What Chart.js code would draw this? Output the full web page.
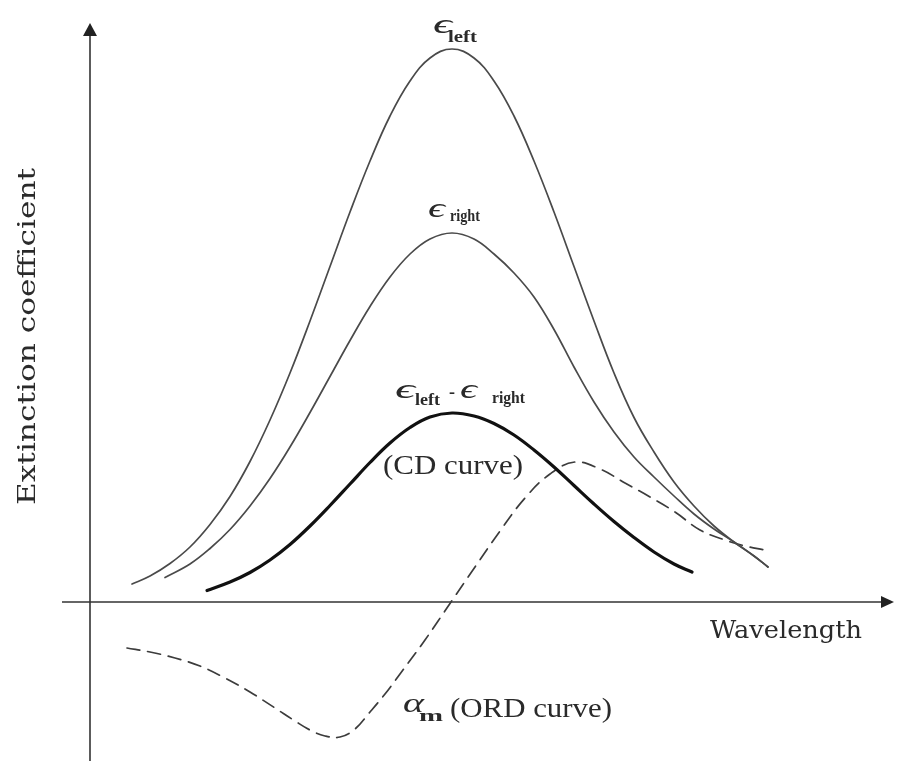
<!DOCTYPE html>
<html>
<head>
<meta charset="utf-8">
<title>Extinction coefficient vs wavelength</title>
<script src="https://cdn.jsdelivr.net/npm/chart.js@4.4.1/dist/chart.umd.min.js"></script>
<style>
  html, body { margin: 0; padding: 0; background: #ffffff; }
  canvas { display: block; }
</style>
</head>
<body>
<canvas id="chart" width="897" height="761"></canvas>
<script>
// ---- Curve data (wavelength and extinction in arbitrary units) ----
const leftWavelength  = [8.4, 12, 16, 20, 24, 28, 32, 36, 40, 44, 48, 52, 56, 60, 64, 68, 72.4, 76.8, 80.8, 84.8, 88.8, 92.8, 96.8, 100.8, 104.8, 108.8, 112.8, 116.8, 120.8, 124.8, 128.8, 132.8, 135.6];
const leftExtinction  = [3.6, 5.2, 7.7, 11.0, 15.5, 21.1, 28.1, 36.4, 45.8, 56.2, 67.1, 78.0, 88.2, 97.2, 104.2, 108.8, 110.6, 108.8, 104.2, 97.2, 88.2, 78.0, 67.1, 56.2, 45.8, 36.9, 30.0, 24.0, 19.2, 15.2, 12.0, 9.2, 7.0];

const rightWavelength = [15.0, 20, 24, 28, 32, 36, 40, 44, 48, 52, 56, 60, 64, 68, 72.4, 76.8, 80.8, 84.8, 88.8, 92.8, 96.8, 100.8, 104.8, 108.8, 112.8, 116.8, 120.8, 124.8, 128.8, 132.8, 135.6];
const rightExtinction = [4.9, 7.6, 10.7, 14.5, 19.2, 24.7, 31.0, 37.9, 45.1, 52.3, 59.1, 65.0, 69.6, 72.6, 73.8, 72.6, 69.6, 65.8, 61.0, 54.5, 47.0, 40.0, 34.0, 29.0, 25.0, 21.2, 17.6, 14.6, 12.0, 9.2, 7.0];

const cdWavelength    = [23.4, 28, 32, 36, 40, 44, 48, 52, 56, 60, 64, 68, 72.4, 76.8, 80.8, 84.8, 88.8, 92.8, 96.8, 100.8, 104.8, 108.8, 112.8, 116.8, 120.4];
const cdValue         = [2.3, 4.0, 5.9, 8.4, 11.5, 15.2, 19.3, 23.6, 27.9, 31.8, 34.9, 37.0, 37.8, 37.2, 35.7, 33.4, 30.4, 27.0, 23.3, 19.6, 16.1, 12.9, 10.0, 7.6, 6.0];

const ordWavelength   = [7.4, 12, 17, 22, 27, 32, 37, 41, 44, 47, 50, 53, 56, 59, 62, 67, 72.2, 77, 82, 87, 92, 97, 102, 107, 112, 117, 122, 127, 131, 135];
const ordValue        = [-9.2, -10.0, -11.2, -12.8, -15.2, -18.0, -21.2, -23.8, -25.6, -26.8, -27.0, -25.4, -22.0, -18.4, -14.4, -7.6, 0.0, 7.0, 14.2, 20.8, 25.6, 28.0, 26.6, 23.8, 21.0, 18.0, 14.4, 12.4, 11.2, 10.4];

// ---- Plot window and axis extents (data units) ----
const xRange = { min: -18, max: 161.4 };
const yRange = { min: -31.8, max: 120.4 };
const axisExtent = { xStart: -5.6, xEnd: 160.8, yStart: -31.8, yEnd: 115.8 };

// ---- Label anchors (data units) ----
const labelAnchors = {
  epsLeft:    { x: 68.6, y: 113.8 },
  epsRight:   { x: 67.6, y: 77.0 },
  epsDiff:    { x: 61.0, y: 40.8 },
  cdCaption:  { x: 72.6, y: 25.6 },
  ordCaption: { x: 62.6, y: -22.0 },
  xTitle:     { x: 124.0, y: -7.2 },
  yTitle:     { x: -11.0, y: 53.0 }
};

const toPoints = (xs, ys) => xs.map((x, i) => ({ x: x, y: ys[i] }));

const SERIF = '"Liberation Serif", "Times New Roman", serif';
const TITLE_SERIF = '"DejaVu Serif", serif';
const INK = '#2a2a2a';

// draw text horizontally fitted to a given width, left aligned at (x, baseline)
function fitText(ctx, text, x, y, font, width) {
  ctx.save();
  ctx.font = font;
  ctx.textAlign = 'left';
  ctx.textBaseline = 'alphabetic';
  const w = ctx.measureText(text).width;
  ctx.translate(x, y);
  ctx.scale(width / w, 1);
  ctx.fillText(text, 0, 0);
  ctx.restore();
}

// epsilon symbol followed by a small subscript
function epsWithSub(ctx, x, base, sub, epsW, gap, subW, drop) {
  fitText(ctx, '\u03F5', x, base, 'italic 28px ' + SERIF, epsW);
  fitText(ctx, sub, x + epsW + gap, base + drop, 'bold 16px ' + SERIF, subW);
  return x + epsW + gap + subW;
}

const decorations = {
  id: 'decorations',
  beforeDatasetsDraw(chart) {
    const ctx = chart.ctx;
    const xs = chart.scales.x, ys = chart.scales.y;
    const x0 = xs.getPixelForValue(0), y0 = ys.getPixelForValue(0);
    const xa = xs.getPixelForValue(axisExtent.xStart), xb = xs.getPixelForValue(axisExtent.xEnd);
    const ya = ys.getPixelForValue(axisExtent.yStart), yb = ys.getPixelForValue(axisExtent.yEnd);
    ctx.save();
    ctx.strokeStyle = '#333';
    ctx.fillStyle = '#222';
    ctx.lineWidth = 1.6;
    // horizontal (wavelength) axis
    ctx.beginPath();
    ctx.moveTo(xa, y0);
    ctx.lineTo(xb - 10, y0);
    ctx.stroke();
    ctx.beginPath();
    ctx.moveTo(xb, y0);
    ctx.lineTo(xb - 13, y0 - 6);
    ctx.lineTo(xb - 13, y0 + 6);
    ctx.closePath();
    ctx.fill();
    // vertical (extinction) axis
    ctx.beginPath();
    ctx.moveTo(x0, ya);
    ctx.lineTo(x0, yb + 10);
    ctx.stroke();
    ctx.beginPath();
    ctx.moveTo(x0, yb);
    ctx.lineTo(x0 - 7, yb + 13);
    ctx.lineTo(x0 + 7, yb + 13);
    ctx.closePath();
    ctx.fill();
    ctx.restore();
  },
  afterDatasetsDraw(chart) {
    const ctx = chart.ctx;
    const xs = chart.scales.x, ys = chart.scales.y;
    const P = a => ({ x: xs.getPixelForValue(a.x), y: ys.getPixelForValue(a.y) });
    ctx.save();
    ctx.fillStyle = INK;

    let p = P(labelAnchors.epsLeft);
    epsWithSub(ctx, p.x, p.y, 'left', 19, -4, 29, 9);

    p = P(labelAnchors.epsRight);
    epsWithSub(ctx, p.x, p.y, 'right', 17, 5, 30, 4);

    p = P(labelAnchors.epsDiff);
    let nx = epsWithSub(ctx, p.x, p.y, 'left', 20, 0, 25, 7);
    fitText(ctx, '-', nx + 9, p.y, 'bold 18px ' + SERIF, 6);
    epsWithSub(ctx, nx + 20, p.y, 'right', 17, 15, 33, 5);

    p = P(labelAnchors.cdCaption);
    fitText(ctx, '(CD curve)', p.x - 70, p.y, '27px ' + SERIF, 140);

    p = P(labelAnchors.ordCaption);
    fitText(ctx, '\u03B1', p.x, p.y, 'italic 27px ' + SERIF, 21);
    fitText(ctx, 'm', p.x + 16, p.y + 9, 'bold 16px ' + SERIF, 24);
    fitText(ctx, '(ORD curve)', p.x + 47, p.y + 5, '27px ' + SERIF, 162);

    p = P(labelAnchors.xTitle);
    fitText(ctx, 'Wavelength', p.x, p.y, '25px ' + TITLE_SERIF, 152);

    p = P(labelAnchors.yTitle);
    ctx.save();
    ctx.translate(p.x, p.y);
    ctx.rotate(-Math.PI / 2);
    fitText(ctx, 'Extinction coefficient', -168, 0, '24px ' + TITLE_SERIF, 337);
    ctx.restore();

    ctx.restore();
  }
};

new Chart(document.getElementById('chart'), {
  type: 'line',
  data: {
    datasets: [
      {
        label: '\u03B5 left',
        data: toPoints(leftWavelength, leftExtinction),
        borderColor: '#4a4a4a',
        borderWidth: 1.7
      },
      {
        label: '\u03B5 right',
        data: toPoints(rightWavelength, rightExtinction),
        borderColor: '#4a4a4a',
        borderWidth: 1.7
      },
      {
        label: 'CD curve',
        data: toPoints(cdWavelength, cdValue),
        borderColor: '#111111',
        borderWidth: 3.2
      },
      {
        label: 'ORD curve',
        data: toPoints(ordWavelength, ordValue),
        borderColor: '#3c3c3c',
        borderWidth: 1.7,
        borderDash: [13, 8]
      }
    ]
  },
  options: {
    responsive: false,
    animation: false,
    devicePixelRatio: 1,
    layout: { padding: 0 },
    elements: {
      point: { radius: 0, hoverRadius: 0 },
      line: { tension: 0.4, fill: false, borderCapStyle: 'round' }
    },
    scales: {
      x: { type: 'linear', min: xRange.min, max: xRange.max, display: false },
      y: { type: 'linear', min: yRange.min, max: yRange.max, display: false }
    },
    plugins: {
      legend: { display: false },
      tooltip: { enabled: false }
    },
    events: []
  },
  plugins: [decorations]
});
</script>
</body>
</html>
